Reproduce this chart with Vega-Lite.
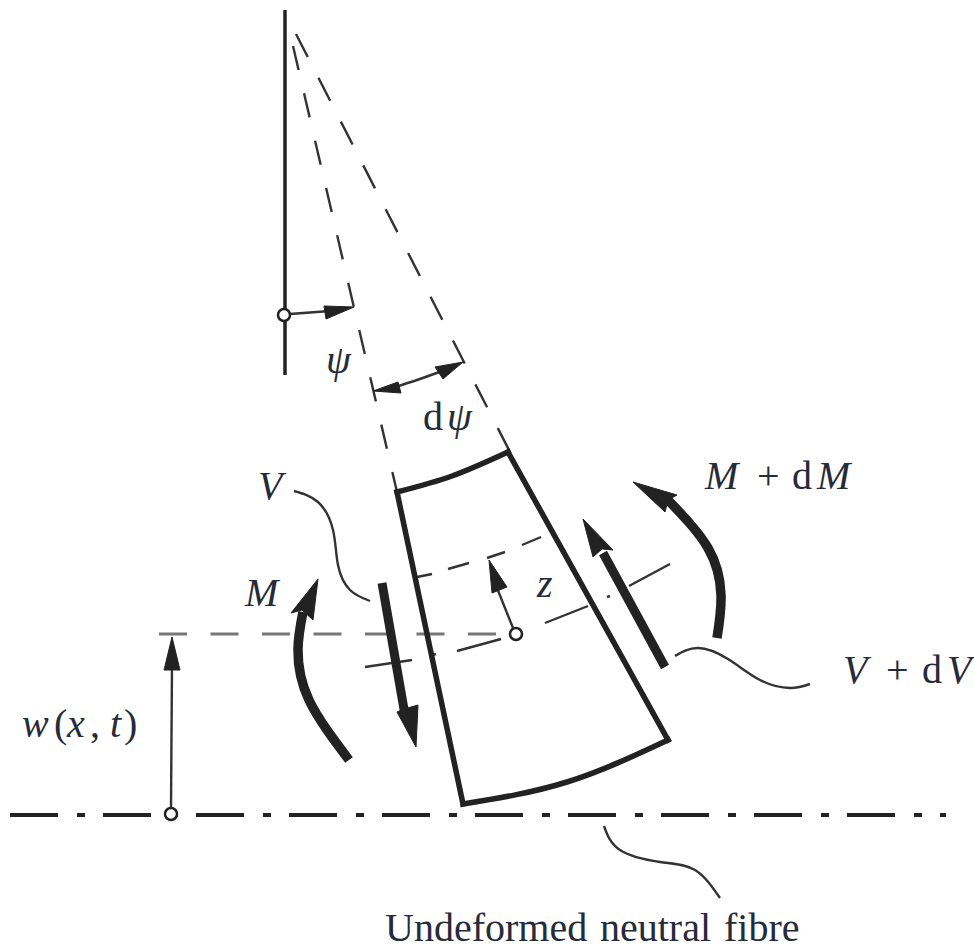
{"$schema":"https://vega.github.io/schema/vega-lite/v6.json","autosize":{"type":"fit","contains":"padding"},"width":974,"height":949,"padding":0,"background":"white","view":{"stroke":null},
"datasets":{"shapes":[
{"p":"vert","k":"v","i":0,"x":285,"y":10},{"p":"vert","k":"v","i":1,"x":285,"y":375},
{"p":"radL","k":"rl","i":0,"x":293,"y":46},{"p":"radL","k":"rl","i":1,"x":397,"y":492},
{"p":"radR","k":"rr","i":0,"x":296,"y":34},{"p":"radR","k":"rr","i":1,"x":510,"y":452},
{"p":"horiz","k":"h","i":0,"x":159,"y":634},{"p":"horiz","k":"h","i":1,"x":497,"y":634},
{"p":"axis","k":"a","i":0,"x":10,"y":815},{"p":"axis","k":"a","i":1,"x":946,"y":815},
{"p":"thin","k":"la","i":0,"x":365,"y":667},{"p":"thin","k":"la","i":1,"x":412,"y":660},
{"p":"thin","k":"lb","i":0,"x":432,"y":655},{"p":"thin","k":"lb","i":1,"x":436,"y":654},
{"p":"thin","k":"lc","i":0,"x":457,"y":651},{"p":"thin","k":"lc","i":1,"x":501,"y":639},
{"p":"thin","k":"ld","i":0,"x":545,"y":623},{"p":"thin","k":"ld","i":1,"x":588,"y":606},
{"p":"thin","k":"le","i":0,"x":607,"y":597},{"p":"thin","k":"le","i":1,"x":610,"y":596},
{"p":"thin","k":"lf","i":0,"x":629,"y":586},{"p":"thin","k":"lf","i":1,"x":670,"y":564},
{"p":"thin","k":"ua","i":0,"x":417,"y":577},{"p":"thin","k":"ua","i":1,"x":432,"y":574},
{"p":"thin","k":"ub","i":0,"x":448,"y":569},{"p":"thin","k":"ub","i":1,"x":469,"y":563},
{"p":"thin","k":"uc","i":0,"x":487,"y":558},{"p":"thin","k":"uc","i":1,"x":505,"y":552},
{"p":"thin","k":"ud","i":0,"x":522,"y":545},{"p":"thin","k":"ud","i":1,"x":541,"y":537},
{"p":"thin","k":"ar1","i":0,"x":290,"y":314},{"p":"thin","k":"ar1","i":1,"x":330,"y":311},
{"p":"thin","k":"ar2","i":0,"x":395,"y":387},{"p":"thin","k":"ar2","i":1,"x":417,"y":380},{"p":"thin","k":"ar2","i":2,"x":442,"y":371},
{"p":"thin","k":"ar3","i":0,"x":171,"y":808},{"p":"thin","k":"ar3","i":1,"x":172,"y":665},
{"p":"thin","k":"ar4","i":0,"x":513,"y":628},{"p":"thin","k":"ar4","i":1,"x":497,"y":588},
{"p":"thin","k":"lv","i":0,"x":294,"y":491},{"p":"thin","k":"lv","i":1,"x":318,"y":502},{"p":"thin","k":"lv","i":2,"x":333,"y":530},{"p":"thin","k":"lv","i":3,"x":338,"y":565},{"p":"thin","k":"lv","i":4,"x":350,"y":590},{"p":"thin","k":"lv","i":5,"x":370,"y":601},
{"p":"thin","k":"ldv","i":0,"x":675,"y":656},{"p":"thin","k":"ldv","i":1,"x":698,"y":648},{"p":"thin","k":"ldv","i":2,"x":728,"y":659},{"p":"thin","k":"ldv","i":3,"x":760,"y":680},{"p":"thin","k":"ldv","i":4,"x":790,"y":688},{"p":"thin","k":"ldv","i":5,"x":810,"y":684},
{"p":"thin","k":"lu","i":0,"x":604,"y":826},{"p":"thin","k":"lu","i":1,"x":620,"y":850},{"p":"thin","k":"lu","i":2,"x":660,"y":862},{"p":"thin","k":"lu","i":3,"x":695,"y":870},{"p":"thin","k":"lu","i":4,"x":720,"y":898},
{"p":"frame","k":"top","i":0,"x":397,"y":492},{"p":"frame","k":"top","i":1,"x":452,"y":476},{"p":"frame","k":"top","i":2,"x":508,"y":452},
{"p":"frame","k":"right","i":0,"x":508,"y":452},{"p":"frame","k":"right","i":1,"x":668,"y":740},
{"p":"frame","k":"bot","i":0,"x":668,"y":740},{"p":"frame","k":"bot","i":1,"x":567,"y":782},{"p":"frame","k":"bot","i":2,"x":463,"y":804},
{"p":"frame","k":"left","i":0,"x":463,"y":804},{"p":"frame","k":"left","i":1,"x":397,"y":492},
{"p":"bar","k":"b1","i":0,"x":382,"y":583},{"p":"bar","k":"b1","i":1,"x":405,"y":715},
{"p":"bar","k":"b2","i":0,"x":665,"y":667},{"p":"bar","k":"b2","i":1,"x":603,"y":553},
{"p":"moment","k":"m1","i":0,"x":349,"y":760},{"p":"moment","k":"m1","i":1,"x":309,"y":700},{"p":"moment","k":"m1","i":2,"x":298,"y":650},{"p":"moment","k":"m1","i":3,"x":303,"y":612},
{"p":"moment","k":"m2","i":0,"x":717,"y":638},{"p":"moment","k":"m2","i":1,"x":721,"y":595},{"p":"moment","k":"m2","i":2,"x":708,"y":548},{"p":"moment","k":"m2","i":3,"x":668,"y":500},
{"p":"head","k":"h1","i":0,"x":354,"y":307},{"p":"head","k":"h1","i":1,"x":324,"y":306},{"p":"head","k":"h1","i":2,"x":326,"y":319},{"p":"head","k":"h1","i":3,"x":354,"y":307},
{"p":"head","k":"h2","i":0,"x":373,"y":391},{"p":"head","k":"h2","i":1,"x":398,"y":382},{"p":"head","k":"h2","i":2,"x":401,"y":393},{"p":"head","k":"h2","i":3,"x":373,"y":391},
{"p":"head","k":"h3","i":0,"x":463,"y":362},{"p":"head","k":"h3","i":1,"x":435,"y":367},{"p":"head","k":"h3","i":2,"x":443,"y":379},{"p":"head","k":"h3","i":3,"x":463,"y":362},
{"p":"head","k":"h4","i":0,"x":172,"y":637},{"p":"head","k":"h4","i":1,"x":164,"y":670},{"p":"head","k":"h4","i":2,"x":180,"y":670},{"p":"head","k":"h4","i":3,"x":172,"y":637},
{"p":"head","k":"h5","i":0,"x":489,"y":560},{"p":"head","k":"h5","i":1,"x":492,"y":593},{"p":"head","k":"h5","i":2,"x":507,"y":587},{"p":"head","k":"h5","i":3,"x":489,"y":560},
{"p":"head","k":"h6","i":0,"x":416,"y":747},{"p":"head","k":"h6","i":1,"x":397,"y":712},{"p":"head","k":"h6","i":2,"x":404,"y":709},{"p":"head","k":"h6","i":3,"x":418,"y":705},{"p":"head","k":"h6","i":4,"x":416,"y":747},
{"p":"head","k":"h7","i":0,"x":583,"y":519},{"p":"head","k":"h7","i":1,"x":593,"y":557},{"p":"head","k":"h7","i":2,"x":602,"y":549},{"p":"head","k":"h7","i":3,"x":613,"y":550},{"p":"head","k":"h7","i":4,"x":583,"y":519},
{"p":"head","k":"h8","i":0,"x":318,"y":579},{"p":"head","k":"h8","i":1,"x":291,"y":613},{"p":"head","k":"h8","i":2,"x":302,"y":610},{"p":"head","k":"h8","i":3,"x":313,"y":620},{"p":"head","k":"h8","i":4,"x":318,"y":579},
{"p":"head","k":"h9","i":0,"x":633,"y":482},{"p":"head","k":"h9","i":1,"x":677,"y":495},{"p":"head","k":"h9","i":2,"x":668,"y":500},{"p":"head","k":"h9","i":3,"x":665,"y":512},{"p":"head","k":"h9","i":4,"x":633,"y":482},
{"p":"dot","k":"c1","i":0,"x":284,"y":315},{"p":"dot","k":"c2","i":0,"x":171,"y":814},{"p":"dot","k":"c3","i":0,"x":516,"y":634}
],
"labels":[
{"s":"it","t":"V","x":258,"y":499},{"s":"it","t":"M","x":245,"y":606},{"s":"it","t":"M","x":705,"y":489},{"s":"ro","t":"+","x":757,"y":489},{"s":"ro","t":"d","x":792,"y":489},{"s":"it","t":"M","x":817,"y":489},
{"s":"it","t":"V","x":843,"y":683},{"s":"ro","t":"+","x":886,"y":683},{"s":"ro","t":"d","x":922,"y":683},{"s":"it","t":"V","x":947,"y":683},
{"s":"it","t":"w","x":22,"y":737},{"s":"ro","t":"(","x":54,"y":737},{"s":"it","t":"x","x":67,"y":737},{"s":"ro","t":",","x":90,"y":737},{"s":"it","t":"t","x":110,"y":737},{"s":"ro","t":")","x":124,"y":737},
{"s":"it","t":"ψ","x":326,"y":373},{"s":"ro","t":"d","x":423,"y":430},{"s":"it","t":"ψ","x":447,"y":430},{"s":"it","t":"z","x":537,"y":597},
{"s":"ro","t":"Undeformed","x":385,"y":941},{"s":"ro","t":"neutral","x":600,"y":941},{"s":"ro","t":"fibre","x":724,"y":941}
]},
"data":{"name":"shapes"},
"encoding":{"x":{"field":"x","type":"quantitative","axis":null,"scale":{"domain":[0,974],"nice":false,"zero":false}},"y":{"field":"y","type":"quantitative","axis":null,"scale":{"domain":[0,949],"reverse":true,"nice":false,"zero":false}},"order":{"field":"i","type":"quantitative"},"detail":{"field":"k","type":"nominal"}},
"layer":[
{"transform":[{"filter":"datum.p==='vert'"}],"mark":{"type":"line","stroke":"#222","strokeWidth":3.5}},
{"transform":[{"filter":"datum.p==='radL'"}],"mark":{"type":"line","stroke":"#333","strokeWidth":2.4,"strokeDash":[24.7,23.9]}},
{"transform":[{"filter":"datum.p==='radR'"}],"mark":{"type":"line","stroke":"#333","strokeWidth":2.4,"strokeDash":[25.8,23.4]}},
{"transform":[{"filter":"datum.p==='horiz'"}],"mark":{"type":"line","stroke":"#777","strokeWidth":3,"strokeDash":[28,23.5]}},
{"transform":[{"filter":"datum.p==='axis'"}],"mark":{"type":"line","stroke":"#222","strokeWidth":4,"strokeDash":[48,19,8,18]}},
{"transform":[{"filter":"datum.p==='thin'"}],"mark":{"type":"line","stroke":"#333","strokeWidth":2.4,"interpolate":"natural"}},
{"transform":[{"filter":"datum.p==='frame'"}],"mark":{"type":"line","stroke":"#222","strokeWidth":5.5,"strokeCap":"square","interpolate":"natural"}},
{"transform":[{"filter":"datum.p==='bar'"}],"mark":{"type":"line","stroke":"#222","strokeWidth":9}},
{"transform":[{"filter":"datum.p==='moment'"}],"mark":{"type":"line","stroke":"#222","strokeWidth":9.5,"interpolate":"natural"}},
{"transform":[{"filter":"datum.p==='head'"}],"mark":{"type":"line","stroke":"#222","strokeWidth":1,"fill":"#222","filled":true}},
{"transform":[{"filter":"datum.p==='dot'"}],"mark":{"type":"point","shape":"circle","filled":true,"fill":"white","stroke":"#222","strokeWidth":2.5,"size":144,"opacity":1}},
{"data":{"name":"labels"},"transform":[{"filter":"datum.s==='it'"}],"mark":{"type":"text","align":"left","baseline":"alphabetic","font":"Liberation Serif","fontStyle":"italic","fontSize":40,"fill":"#262b3a"},"encoding":{"text":{"field":"t","type":"nominal"},"order":null,"detail":null}},
{"data":{"name":"labels"},"transform":[{"filter":"datum.s==='ro'"}],"mark":{"type":"text","align":"left","baseline":"alphabetic","font":"Liberation Serif","fontSize":40,"fill":"#262b3a"},"encoding":{"text":{"field":"t","type":"nominal"},"order":null,"detail":null}}
]}
